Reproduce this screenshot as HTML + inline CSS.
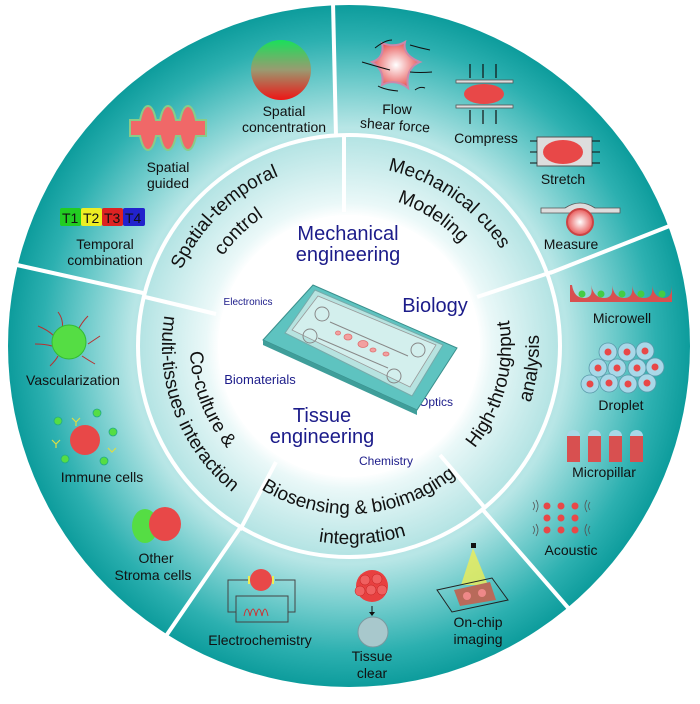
<!DOCTYPE html>
<html><head><meta charset="utf-8">
<style>
html,body{margin:0;padding:0;background:#fff;}
svg{display:block;}
text{font-family:"Liberation Sans",Arial,sans-serif;}
.lb{font-size:14px;fill:#111;text-anchor:middle;}
.rg{font-size:19px;fill:#111;}
.bl{fill:#1c1c8a;text-anchor:middle;}
</style></head>
<body>
<svg width="700" height="704" viewBox="0 0 700 704" xmlns="http://www.w3.org/2000/svg">
<defs>
<radialGradient id="bg" cx="349" cy="346" r="341" gradientUnits="userSpaceOnUse">
<stop offset="0" stop-color="#ffffff"/>
<stop offset="0.38" stop-color="#ffffff"/>
<stop offset="0.42" stop-color="#eaf8f8"/>
<stop offset="0.61" stop-color="#b5e4e4"/>
<stop offset="0.64" stop-color="#b8e6e6"/>
<stop offset="0.78" stop-color="#6ccaca"/>
<stop offset="0.9" stop-color="#2cb0b0"/>
<stop offset="1" stop-color="#0d9c9c"/>
</radialGradient>
<linearGradient id="gr" x1="0" y1="0" x2="0" y2="1">
<stop offset="0" stop-color="#19e05a"/><stop offset="0.5" stop-color="#9a9a70"/><stop offset="1" stop-color="#ee1515"/>
</linearGradient>
<radialGradient id="pk" cx="0.5" cy="0.5" r="0.5">
<stop offset="0" stop-color="#fff"/><stop offset="1" stop-color="#e85a5a"/>
</radialGradient>
<path id="p1" d=""/><path id="p2" d=""/><path id="p3" d=""/><path id="p4" d=""/><path id="p5" d=""/>
<path id="p6" d=""/><path id="p7" d=""/><path id="p8" d=""/><path id="p9" d=""/><path id="p10" d=""/>
</defs>
<circle cx="349" cy="346" r="341" fill="url(#bg)"/>
<circle cx="349" cy="346" r="131" fill="#fff"/>
<circle cx="349" cy="346" r="211" fill="none" stroke="#fff" stroke-width="4"/>
<g stroke="#fff" stroke-width="4">
<line x1="333" y1="2" x2="336" y2="137"/>
<line x1="344" y1="137" x2="344" y2="212"/>
<line x1="8" y1="263" x2="143" y2="293"/>
<line x1="145" y1="297" x2="216" y2="314"/>
<line x1="550" y1="273" x2="672" y2="225"/>
<line x1="477" y1="297" x2="552" y2="272"/>
<line x1="483" y1="510" x2="570" y2="610"/>
<line x1="440" y1="455" x2="485" y2="508"/>
<line x1="240" y1="528" x2="166" y2="636"/>
<line x1="276" y1="462" x2="240" y2="530"/>
</g>
<!-- ring labels -->
<text class="rg"><textPath href="#p1" startOffset="50%" text-anchor="middle">Spatial-temporal</textPath></text>
<text class="rg"><textPath href="#p2" startOffset="50%" text-anchor="middle">control</textPath></text>
<text class="rg"><textPath href="#p3" startOffset="50%" text-anchor="middle">Mechanical cues</textPath></text>
<text class="rg"><textPath href="#p4" startOffset="50%" text-anchor="middle">Modeling</textPath></text>
<text class="rg"><textPath href="#p5" startOffset="50%" text-anchor="middle">High-throughput</textPath></text>
<text class="rg"><textPath href="#p6" startOffset="50%" text-anchor="middle">analysis</textPath></text>
<text class="rg"><textPath href="#p7" startOffset="50%" text-anchor="middle">Co-culture &amp;</textPath></text>
<text class="rg"><textPath href="#p8" startOffset="50%" text-anchor="middle">multi-tissues interaction</textPath></text>
<text class="rg"><textPath href="#p9" startOffset="50%" text-anchor="middle">Biosensing &amp; bioimaging</textPath></text>
<text class="rg"><textPath href="#p10" startOffset="50%" text-anchor="middle">integration</textPath></text>

<!-- center -->
<text class="bl" x="348" y="240" font-size="20">Mechanical</text>
<text class="bl" x="348" y="261" font-size="20">engineering</text>
<text class="bl" x="435" y="312" font-size="20">Biology</text>
<text class="bl" x="248" y="305" font-size="10">Electronics</text>
<text class="bl" x="260" y="384" font-size="13">Biomaterials</text>
<text class="bl" x="322" y="422" font-size="20">Tissue</text>
<text class="bl" x="322" y="443" font-size="20">engineering</text>
<text class="bl" x="436" y="406" font-size="12">Optics</text>
<text class="bl" x="386" y="465" font-size="12">Chemistry</text>
<!-- chip -->
<polygon points="263,340 313,285 457,348 417,410" fill="#5ec3c0" stroke="#3a8f8c"/>
<polygon points="263,340 417,410 417,415 263,345" fill="#3f9e9a"/>
<polygon points="285,333 315,290 443,345 412,396" fill="#b7e3e0" stroke="#7aa" stroke-width="1"/>
<polygon points="292,330 318,296 436,345 410,387" fill="#d3efed" stroke="#999" stroke-width="0.8"/>
<g fill="none" stroke="#888" stroke-width="1">
<circle cx="322" cy="314" r="7"/><circle cx="310" cy="336" r="7"/><circle cx="418" cy="350" r="7"/><circle cx="394" cy="376" r="7"/>
<line x1="330" y1="322" x2="408" y2="356"/><line x1="318" y1="338" x2="388" y2="368"/>
</g>
<g fill="#f2a0a0" stroke="#e07070" stroke-width="0.8">
<ellipse cx="348" cy="337" rx="4" ry="3"/><ellipse cx="363" cy="344" rx="5" ry="3.5"/><ellipse cx="373" cy="350" rx="3" ry="2"/><ellipse cx="386" cy="354" rx="3" ry="2"/><ellipse cx="338" cy="333" rx="2.5" ry="2"/>
</g>
<!-- Spatial concentration -->
<circle cx="281" cy="70" r="30" fill="url(#gr)"/>
<text class="lb" x="284" y="116">Spatial</text>
<text class="lb" x="284" y="132">concentration</text>
<!-- Spatial guided -->
<path d="M130,120 L140,120 Q143,106 148,106 Q153,106 156,120 L160,120 Q163,106 168,106 Q173,106 176,120 L180,120 Q183,106 188,106 Q193,106 196,120 L206,120 L206,136 L196,136 Q193,150 188,150 Q183,150 180,136 L176,136 Q173,150 168,150 Q163,150 160,136 L156,136 Q153,150 148,150 Q143,150 140,136 L130,136 Z" fill="#f06868" stroke="#8c8" stroke-width="2"/>
<text class="lb" x="168" y="172">Spatial</text>
<text class="lb" x="168" y="188">guided</text>
<!-- Temporal -->
<rect x="60" y="208" width="21" height="18" rx="2" fill="#22cc22"/>
<rect x="81" y="208" width="21" height="18" rx="2" fill="#eeee22"/>
<rect x="102" y="208" width="21" height="18" rx="2" fill="#dd2222"/>
<rect x="123" y="208" width="22" height="18" rx="2" fill="#2222cc"/>
<text x="62" y="223" font-size="14" fill="#111">T1</text><text x="83" y="223" font-size="14" fill="#111">T2</text><text x="104" y="223" font-size="14" fill="#111">T3</text><text x="125" y="223" font-size="14" fill="#111">T4</text>
<text class="lb" x="105" y="249">Temporal</text>
<text class="lb" x="105" y="265">combination</text>
<!-- Flow shear -->
<path d="M382,43 Q395,48 405,42 Q402,55 420,62 Q405,68 408,88 Q395,78 382,85 Q385,70 372,62 Q385,58 382,43 Z" fill="url(#pk)" stroke="#c8a" stroke-width="2"/>
<g stroke="#111" fill="none" stroke-width="1"><path d="M375,48 Q385,40 392,40"/><path d="M410,45 Q420,48 430,50"/><path d="M362,62 Q375,66 390,70"/><path d="M410,72 Q420,73 432,72"/><path d="M378,86 Q385,90 398,91"/><path d="M415,90 Q420,86 425,88"/></g>
<text class="lb" x="397" y="114">Flow</text>
<text class="lb" x="395" y="130" transform="rotate(4 395 126)">shear force</text>
<!-- Compress -->
<g stroke="#111" stroke-width="1.2"><line x1="470" y1="64" x2="470" y2="78"/><line x1="483" y1="64" x2="483" y2="78"/><line x1="496" y1="64" x2="496" y2="78"/><line x1="470" y1="110" x2="470" y2="124"/><line x1="483" y1="110" x2="483" y2="124"/><line x1="496" y1="110" x2="496" y2="124"/></g>
<rect x="456" y="80" width="57" height="3" fill="#ddd" stroke="#555" stroke-width="0.8"/>
<rect x="456" y="105" width="57" height="3" fill="#ddd" stroke="#555" stroke-width="0.8"/>
<ellipse cx="484" cy="94" rx="20" ry="10" fill="#e84848"/>
<text class="lb" x="486" y="143">Compress</text>
<!-- Stretch -->
<rect x="537" y="137" width="55" height="29" fill="#ddd" stroke="#555"/>
<ellipse cx="563" cy="152" rx="20" ry="12" fill="#e84848"/>
<g stroke="#111"><line x1="530" y1="141" x2="537" y2="141"/><line x1="530" y1="152" x2="537" y2="152"/><line x1="530" y1="163" x2="537" y2="163"/><line x1="592" y1="141" x2="600" y2="141"/><line x1="592" y1="152" x2="600" y2="152"/><line x1="592" y1="163" x2="600" y2="163"/></g>
<text class="lb" x="563" y="184">Stretch</text>
<!-- Measure -->
<path d="M541,208 L565,208 Q580,198 595,208 L620,208 L620,213 L541,213 Z" fill="#ddd" stroke="#555" stroke-width="0.8"/>
<circle cx="580" cy="222" r="13" fill="url(#pk)" stroke="#c44" stroke-width="2"/>
<text class="lb" x="571" y="249">Measure</text>
<!-- Microwell -->
<path d="M570,285 L572,285 Q574,298 584,298 Q594,298 591,285 Q594,298 604,298 Q614,298 612,285 Q614,298 624,298 Q634,298 632,285 Q634,298 644,298 Q654,298 652,285 Q654,298 664,298 Q672,298 672,285 L672,302 L570,302 Z" fill="#d85050"/>
<g fill="#44cc44"><circle cx="582" cy="294" r="3.5"/><circle cx="601" cy="294" r="3.5"/><circle cx="622" cy="294" r="3.5"/><circle cx="641" cy="294" r="3.5"/><circle cx="662" cy="294" r="3.5"/></g>
<text class="lb" x="622" y="323">Microwell</text>
<!-- Droplet -->
<g fill="#a8d8e8" stroke="#5a9aaa" stroke-width="0.8">
<circle cx="608" cy="352" r="9"/><circle cx="627" cy="352" r="9"/><circle cx="645" cy="351" r="9"/>
<circle cx="598" cy="368" r="9"/><circle cx="617" cy="368" r="9"/><circle cx="637" cy="368" r="9"/><circle cx="655" cy="367" r="9"/>
<circle cx="590" cy="384" r="9"/><circle cx="609" cy="383" r="9"/><circle cx="628" cy="384" r="9"/><circle cx="647" cy="383" r="9"/>
</g>
<g fill="#e84848"><circle cx="608" cy="352" r="3.5"/><circle cx="627" cy="352" r="3.5"/><circle cx="645" cy="351" r="3.5"/><circle cx="598" cy="368" r="3.5"/><circle cx="617" cy="368" r="3.5"/><circle cx="637" cy="368" r="3.5"/><circle cx="655" cy="367" r="3.5"/><circle cx="590" cy="384" r="3.5"/><circle cx="609" cy="383" r="3.5"/><circle cx="628" cy="384" r="3.5"/><circle cx="647" cy="383" r="3.5"/></g>
<text class="lb" x="621" y="410">Droplet</text>
<!-- Micropillar -->
<g fill="#d85050"><rect x="567" y="436" width="13" height="26"/><rect x="588" y="436" width="13" height="26"/><rect x="609" y="436" width="13" height="26"/><rect x="630" y="436" width="13" height="26"/></g>
<g fill="#a8d8e8"><path d="M567,436 a6.5,6 0 0 1 13,0Z"/><path d="M588,436 a6.5,6 0 0 1 13,0Z"/><path d="M609,436 a6.5,6 0 0 1 13,0Z"/><path d="M630,436 a6.5,6 0 0 1 13,0Z"/></g>
<text class="lb" x="604" y="477">Micropillar</text>
<!-- Acoustic -->
<g fill="#e84848"><circle cx="547" cy="506" r="3.5"/><circle cx="561" cy="506" r="3.5"/><circle cx="575" cy="506" r="3.5"/><circle cx="547" cy="518" r="3.5"/><circle cx="561" cy="518" r="3.5"/><circle cx="575" cy="518" r="3.5"/><circle cx="547" cy="530" r="3.5"/><circle cx="561" cy="530" r="3.5"/><circle cx="575" cy="530" r="3.5"/></g>
<g fill="none" stroke="#555" stroke-width="0.8"><path d="M533,502 q3,4 0,8"/><path d="M536,500 q4,6 0,12"/><path d="M533,526 q3,4 0,8"/><path d="M536,524 q4,6 0,12"/><path d="M590,502 q-3,4 0,8"/><path d="M587,500 q-4,6 0,12"/><path d="M590,526 q-3,4 0,8"/><path d="M587,524 q-4,6 0,12"/></g>
<text class="lb" x="571" y="555">Acoustic</text>
<!-- On-chip imaging -->
<rect x="471" y="543" width="5" height="5" fill="#111"/>
<polygon points="473,548 461,585 488,585" fill="#eeee55" opacity="0.8"/>
<polygon points="437,590 492,578 508,600 452,612" fill="none" stroke="#222"/>
<polygon points="454,590 490,582 496,600 460,606" fill="#b86a5a"/>
<circle cx="467" cy="596" r="4" fill="#e88"/><circle cx="482" cy="593" r="4" fill="#e88"/>
<text class="lb" x="478" y="627">On-chip</text>
<text class="lb" x="478" y="644">imaging</text>
<!-- Tissue clear -->
<circle cx="372" cy="586" r="16" fill="#e84040"/>
<g fill="#f06060" stroke="#c02020" stroke-width="0.5"><circle cx="365" cy="580" r="5"/><circle cx="377" cy="579" r="5"/><circle cx="371" cy="590" r="5"/><circle cx="382" cy="590" r="5"/><circle cx="360" cy="591" r="5"/></g>
<line x1="372" y1="606" x2="372" y2="614" stroke="#111"/><path d="M369,612 L375,612 L372,616 Z" fill="#111"/>
<circle cx="373" cy="632" r="15" fill="#a8c8cc" stroke="#7a9aa0"/>
<text class="lb" x="372" y="661">Tissue</text>
<text class="lb" x="372" y="678">clear</text>
<!-- Electrochemistry -->
<g fill="none" stroke="#444" stroke-width="1"><path d="M249,580 L228,580 L228,612 L236,612"/><path d="M275,580 L295,580 L295,612 L288,612"/><rect x="236" y="596" width="52" height="26"/></g>
<path d="M244,616 q3,-14 6,0 q3,-14 6,0 q3,-14 6,0 q3,-14 6,0" fill="none" stroke="#c33"/>
<circle cx="261" cy="580" r="11" fill="#e84848"/>
<rect x="248" y="576" width="2" height="8" fill="#ee5"/><rect x="272" y="576" width="2" height="8" fill="#ee5"/>
<text class="lb" x="260" y="645">Electrochemistry</text>
<!-- Other stroma -->
<ellipse cx="145" cy="526" rx="13" ry="17" fill="#55dd44"/>
<ellipse cx="165" cy="524" rx="16" ry="17" fill="#e84848"/>
<text class="lb" x="156" y="563">Other</text>
<text class="lb" x="153" y="580">Stroma cells</text>
<!-- Immune -->
<circle cx="85" cy="440" r="15" fill="#e84848"/>
<g fill="#55dd44" stroke="#2a8" stroke-width="0.8"><circle cx="58" cy="421" r="4"/><circle cx="97" cy="413" r="4"/><circle cx="113" cy="432" r="4"/><circle cx="65" cy="459" r="4"/><circle cx="104" cy="461" r="4"/></g>
<g stroke="#dd4" stroke-width="1.2" fill="none"><path d="M72,418 l4,4 l4,-4 M76,422 l0,4"/><path d="M52,440 l4,4 l4,-4 M56,444 l0,4"/><path d="M108,448 l4,4 l4,-4"/></g>
<text class="lb" x="102" y="482">Immune cells</text>
<!-- Vascularization -->
<g stroke="#b83030" stroke-width="1" fill="none"><path d="M58,312 Q64,320 62,330"/><path d="M88,316 Q82,322 78,330"/><path d="M38,326 Q48,330 54,336"/><path d="M100,336 Q94,340 88,344"/><path d="M35,344 Q45,344 52,346"/><path d="M50,366 Q56,360 58,356"/><path d="M95,364 Q88,360 82,356"/></g>
<circle cx="69" cy="342" r="17" fill="#55dd44" stroke="#3b3" stroke-width="1"/>
<text class="lb" x="73" y="385">Vascularization</text>
<script>
var cx=349,cy=346;
function P(r,a){a=a*Math.PI/180;return (cx+r*Math.cos(a)).toFixed(1)+','+(cy+r*Math.sin(a)).toFixed(1);}
function cw(id,r,m){document.getElementById(id).setAttribute('d','M'+P(r,m-70)+' A'+r+','+r+' 0 0 1 '+P(r,m+70));}
function ccw(id,r,m){document.getElementById(id).setAttribute('d','M'+P(r,m+70)+' A'+r+','+r+' 0 0 0 '+P(r,m-70));}
cw('p1',184,-134);cw('p2',155,-134);
cw('p3',180,-55);cw('p4',152,-57);
ccw('p5',162,15);ccw('p6',190,7);
ccw('p7',159,159);ccw('p8',187,159);
ccw('p9',168,86);ccw('p10',198,86);
</script>
</svg>
</body></html>
